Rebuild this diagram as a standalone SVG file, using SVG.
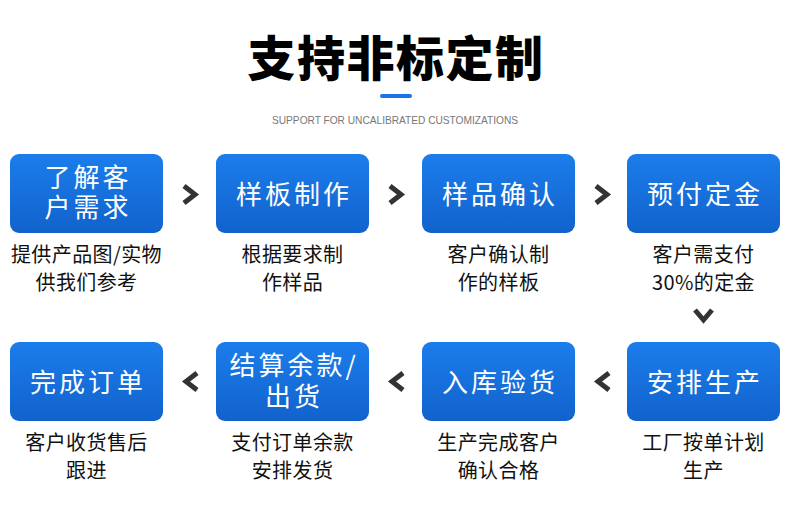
<svg xmlns="http://www.w3.org/2000/svg" width="790" height="510" viewBox="0 0 790 510">
<defs>
<linearGradient id="bg" x1="0" y1="0" x2="0" y2="1">
<stop offset="0" stop-color="#1b7deb"/>
<stop offset="1" stop-color="#1262cc"/>
</linearGradient>
<style>
.box{fill:url(#bg)}
.bt{font-family:"Noto Sans CJK SC","Noto Sans",sans-serif;font-size:26px;fill:#fff;text-anchor:middle;letter-spacing:3px}
.cap{font-family:"Noto Sans CJK SC","Noto Sans",sans-serif;font-size:20px;fill:#111;text-anchor:middle;letter-spacing:0.4px}
.chev{fill:none;stroke:#333;stroke-width:5;stroke-linejoin:miter}
</style>
</defs>
<rect width="790" height="510" fill="#fff"/>
<text x="396" y="76" font-family="'Noto Sans CJK SC',sans-serif" font-weight="900" font-size="48" fill="#000" text-anchor="middle" letter-spacing="1.5">支持非标定制</text>
<rect x="380" y="94" width="32" height="4" rx="2" fill="#1a73e8"/>
<text x="395" y="124" font-family="'Liberation Sans',sans-serif" font-size="10.5" fill="#777" text-anchor="middle" textLength="246" lengthAdjust="spacingAndGlyphs">SUPPORT FOR UNCALIBRATED CUSTOMIZATIONS</text>

<g id="connectors">
<polyline class="chev" points="184,186 195,194.5 184,203"/>
<polyline class="chev" points="390,186 401,194.5 390,203"/>
<polyline class="chev" points="596,186 607,194.5 596,203"/>
<polyline class="chev" points="695,310 703.5,320 712,310"/>
<polyline class="chev" points="197,373 186,381.5 197,390"/>
<polyline class="chev" points="403,373 392,381.5 403,390"/>
<polyline class="chev" points="609,373 598,381.5 609,390"/>
</g>

<g id="n1">
<rect class="box" x="10" y="154" width="153" height="79" rx="9"/>
<text class="bt"><tspan x="88" y="187">了解客</tspan><tspan x="88" y="217">户需求</tspan></text>
<text class="cap"><tspan x="86.5" y="262">提供产品图/实物</tspan><tspan x="86.5" y="290">供我们参考</tspan></text>
</g>
<g id="n2">
<rect class="box" x="216" y="154" width="153" height="79" rx="9"/>
<text class="bt" x="294" y="204">样板制作</text>
<text class="cap"><tspan x="292.5" y="262">根据要求制</tspan><tspan x="292.5" y="290">作样品</tspan></text>
</g>
<g id="n3">
<rect class="box" x="422" y="154" width="153" height="79" rx="9"/>
<text class="bt" x="500" y="204">样品确认</text>
<text class="cap"><tspan x="498.5" y="262">客户确认制</tspan><tspan x="498.5" y="290">作的样板</tspan></text>
</g>
<g id="n4">
<rect class="box" x="627" y="154" width="153" height="79" rx="9"/>
<text class="bt" x="705" y="204">预付定金</text>
<text class="cap"><tspan x="703.5" y="262">客户需支付</tspan><tspan x="703.5" y="290">30%的定金</tspan></text>
</g>
<g id="n5">
<rect class="box" x="627" y="342" width="153" height="79" rx="9"/>
<text class="bt" x="705" y="392">安排生产</text>
<text class="cap"><tspan x="703.5" y="450">工厂按单计划</tspan><tspan x="703.5" y="478">生产</tspan></text>
</g>
<g id="n6">
<rect class="box" x="422" y="342" width="153" height="79" rx="9"/>
<text class="bt" x="500" y="392">入库验货</text>
<text class="cap"><tspan x="498.5" y="450">生产完成客户</tspan><tspan x="498.5" y="478">确认合格</tspan></text>
</g>
<g id="n7">
<rect class="box" x="216" y="342" width="153" height="79" rx="9"/>
<text class="bt"><tspan x="294" y="375">结算余款/</tspan><tspan x="294" y="406">出货</tspan></text>
<text class="cap"><tspan x="292.5" y="450">支付订单余款</tspan><tspan x="292.5" y="478">安排发货</tspan></text>
</g>
<g id="n8">
<rect class="box" x="10" y="342" width="153" height="79" rx="9"/>
<text class="bt" x="88" y="392">完成订单</text>
<text class="cap"><tspan x="86.5" y="450">客户收货售后</tspan><tspan x="86.5" y="478">跟进</tspan></text>
</g>
</svg>
